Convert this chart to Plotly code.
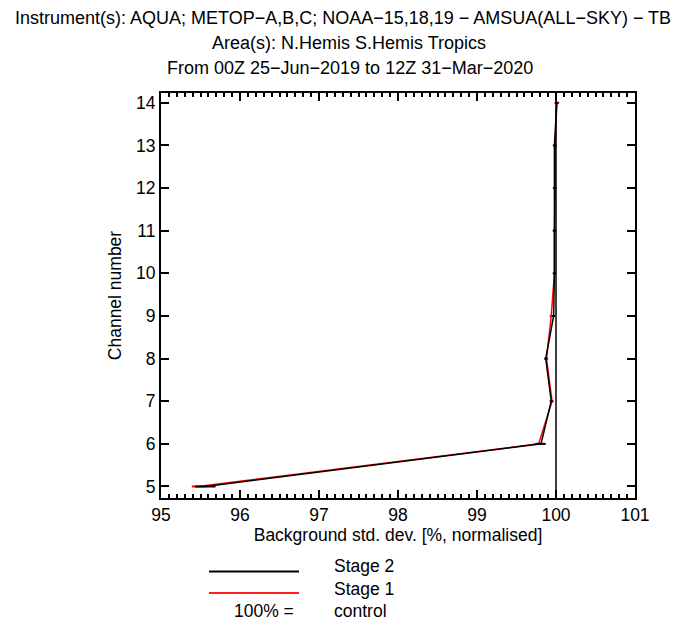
import plotly.graph_objects as go

channels = [5, 6, 7, 8, 9, 10, 11, 12, 13, 14]
stage2 = [95.56, 99.81, 99.94, 99.87, 99.97, 99.98, 99.98, 99.98, 99.98, 100.01]
stage2_err = [0.13, 0.06, 0.02, 0.02, 0.02, 0.02, 0.02, 0.02, 0.02, 0.02]
stage1 = [95.47, 99.78, 99.95, 99.88, 99.94, 99.98, 99.98, 99.99, 99.99, 100.01]
stage1_err = [0.08, 0.05, 0.02, 0.02, 0.02, 0.02, 0.02, 0.02, 0.02, 0.03]
control = 100

title_lines = [
    "Instrument(s): AQUA; METOP\u2212A,B,C; NOAA\u221215,18,19 \u2212 AMSUA(ALL\u2212SKY) \u2212 TB",
    "Area(s): N.Hemis S.Hemis Tropics",
    "From 00Z 25\u2212Jun\u22122019 to 12Z 31\u2212Mar\u22122020",
]

FONT = "Liberation Sans, Arial, sans-serif"
FS = 17.5

fig = go.Figure()
fig.add_trace(go.Scatter(
    x=stage1, y=channels, mode="lines", name="Stage 1",
    line=dict(color="#ff0000", width=1.5),
    error_x=dict(type="data", array=stage1_err, color="#ff0000", thickness=2, width=0),
))
fig.add_trace(go.Scatter(
    x=stage2, y=channels, mode="lines", name="Stage 2",
    line=dict(color="#000000", width=1.5),
    error_x=dict(type="data", array=stage2_err, color="#000000", thickness=2, width=0),
))

fig.add_shape(type="line", xref="x", yref="paper", x0=control, x1=control, y0=0, y1=1,
              line=dict(color="black", width=1.5))

# legend drawn manually
fig.add_shape(type="line", xref="paper", yref="paper", x0=(209-161)/474, x1=(299-161)/474,
              y0=(498-571.5)/405, y1=(498-571.5)/405, line=dict(color="black", width=2))
fig.add_shape(type="line", xref="paper", yref="paper", x0=(209-161)/474, x1=(299-161)/474,
              y0=(498-593)/405, y1=(498-593)/405, line=dict(color="#ff2020", width=2))
for txt, yy in [("Stage 2", 566), ("Stage 1", 589), ("control", 611)]:
    fig.add_annotation(text=txt, xref="paper", yref="paper", x=(332-161)/474, y=(498-yy)/405,
                       xanchor="left", yanchor="middle", showarrow=False,
                       font=dict(family=FONT, size=FS, color="black"))
fig.add_annotation(text="100% =", xref="paper", yref="paper", x=(296-161)/474, y=(498-611)/405,
                   xanchor="right", yanchor="middle", showarrow=False,
                   font=dict(family=FONT, size=FS, color="black"))

for t, xc, yy in zip(title_lines, [343, 349, 350], [18, 43, 68]):
    fig.add_annotation(text=t, xref="paper", yref="paper", x=(xc-161)/474, y=(498-yy)/405,
                       xanchor="center", yanchor="middle", showarrow=False,
                       font=dict(family=FONT, size=18, color="black"))

axis_common = dict(
    showline=True, linecolor="black", linewidth=2, mirror="ticks",
    ticks="inside", tickcolor="black", tickwidth=1.5, ticklen=8,
    showgrid=False, zeroline=False,
    tickfont=dict(family=FONT, size=FS, color="black"),
)

fig.update_xaxes(
    range=[95, 101], dtick=1, tick0=95,
    minor=dict(dtick=0.1, ticks="inside", ticklen=4, tickcolor="black", tickwidth=1.5, showgrid=False),
    title=dict(text="Background std. dev. [%, normalised]", font=dict(family=FONT, size=FS, color="black"), standoff=2),
    **axis_common,
)
fig.update_yaxes(
    range=[4.73, 14.23], dtick=1, tick0=5,
    title=dict(text="Channel number", font=dict(family=FONT, size=FS, color="black"), standoff=10),
    **axis_common,
)

fig.update_layout(
    width=684, height=621,
    margin=dict(l=161, r=49, t=93, b=123),
    paper_bgcolor="white", plot_bgcolor="white",
    showlegend=False,
    font=dict(family=FONT, size=FS, color="black"),
)

fig.write_html("out.html")
